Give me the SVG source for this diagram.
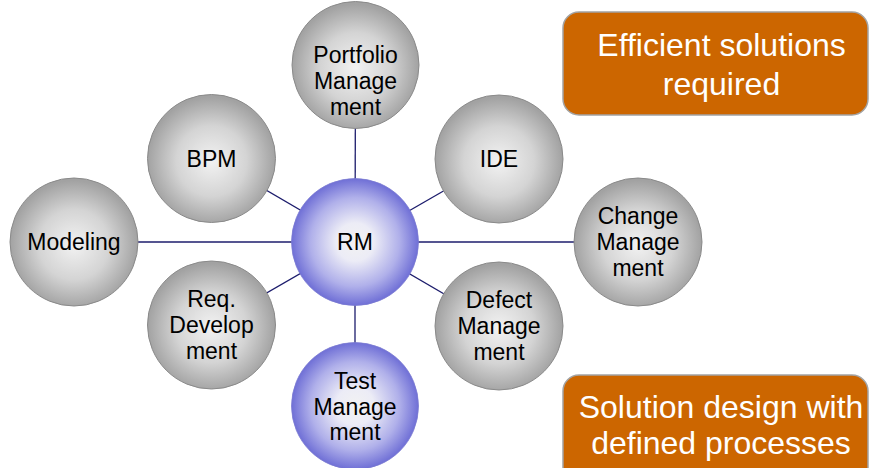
<svg xmlns="http://www.w3.org/2000/svg" width="869" height="468" viewBox="0 0 869 468">
<defs>
<radialGradient id="gray" cx="50%" cy="52%" r="50%">
<stop offset="0" stop-color="#f2f2f2"/>
<stop offset="0.55" stop-color="#d4d4d4"/>
<stop offset="1" stop-color="#a2a2a2"/>
</radialGradient>
<radialGradient id="blue" cx="50%" cy="50%" r="50%">
<stop offset="0" stop-color="#f2f2f2"/>
<stop offset="0.3" stop-color="#ececf6"/>
<stop offset="0.7" stop-color="#b0b0ea"/>
<stop offset="1" stop-color="#6f6fd6"/>
</radialGradient>
<style>
.conn{stroke:#1c1c6c;stroke-width:1.3;fill:none}
.g{fill:url(#gray);stroke:#8a8a8a;stroke-width:1}
.b{fill:url(#blue);stroke:#7a7ad0;stroke-width:0.8}
.t{font-family:"Liberation Sans",Arial,sans-serif;font-size:23px;fill:#000;text-anchor:middle}
.box{fill:#cc6600;stroke:#a3a3a3;stroke-width:1.5}
.bt{font-family:"Liberation Sans",Arial,sans-serif;font-size:32px;fill:#fff;text-anchor:middle}
</style>
</defs>
<rect width="869" height="468" fill="#fff"/>
<g id="connectors">
<line class="conn" x1="355" y1="242" x2="355.5" y2="65"/>
<line class="conn" x1="355" y1="242" x2="355" y2="406"/>
<line class="conn" x1="355" y1="242" x2="74" y2="242"/>
<line class="conn" x1="355" y1="242" x2="638" y2="242"/>
<line class="conn" x1="355" y1="242" x2="211" y2="158"/>
<line class="conn" x1="355" y1="242" x2="499" y2="159"/>
<line class="conn" x1="355" y1="242" x2="211" y2="325"/>
<line class="conn" x1="355" y1="242" x2="499" y2="326"/>
</g>
<g id="portfolio">
<circle class="g" cx="355.5" cy="65" r="63.5"/>
<text class="t" x="355.5" y="63">Portfolio</text>
<text class="t" x="355.5" y="89">Manage</text>
<text class="t" x="355.5" y="115">ment</text>
</g>
<g id="bpm">
<circle class="g" cx="211.5" cy="158.5" r="64"/>
<text class="t" x="211.5" y="166.5">BPM</text>
</g>
<g id="ide">
<circle class="g" cx="499" cy="159" r="64"/>
<text class="t" x="499" y="167">IDE</text>
</g>
<g id="modeling">
<circle class="g" cx="74" cy="242" r="64"/>
<text class="t" x="74" y="250">Modeling</text>
</g>
<g id="change">
<circle class="g" cx="638" cy="242" r="64"/>
<text class="t" x="638" y="224">Change</text>
<text class="t" x="638" y="250">Manage</text>
<text class="t" x="638" y="276">ment</text>
</g>
<g id="req">
<circle class="g" cx="211.5" cy="325" r="64"/>
<text class="t" x="211.5" y="307">Req.</text>
<text class="t" x="211.5" y="333">Develop</text>
<text class="t" x="211.5" y="359">ment</text>
</g>
<g id="defect">
<circle class="g" cx="499" cy="326" r="64"/>
<text class="t" x="499" y="308">Defect</text>
<text class="t" x="499" y="334">Manage</text>
<text class="t" x="499" y="360">ment</text>
</g>
<g id="rm">
<circle class="b" cx="355" cy="242" r="63.5"/>
<text class="t" x="355" y="250">RM</text>
</g>
<g id="test">
<circle class="b" cx="355" cy="406" r="63.5"/>
<text class="t" x="355" y="389">Test</text>
<text class="t" x="355" y="415">Manage</text>
<text class="t" x="355" y="440">ment</text>
</g>
<g id="box-efficient">
<rect class="box" x="563" y="12" width="305" height="103" rx="16"/>
<text class="bt" x="721.5" y="56">Efficient solutions</text>
<text class="bt" x="721.5" y="95">required</text>
</g>
<g id="box-solution">
<rect class="box" x="563" y="375" width="305" height="120" rx="16"/>
<text class="bt" x="721" y="418">Solution design with</text>
<text class="bt" x="721" y="454">defined processes</text>
</g>
</svg>
